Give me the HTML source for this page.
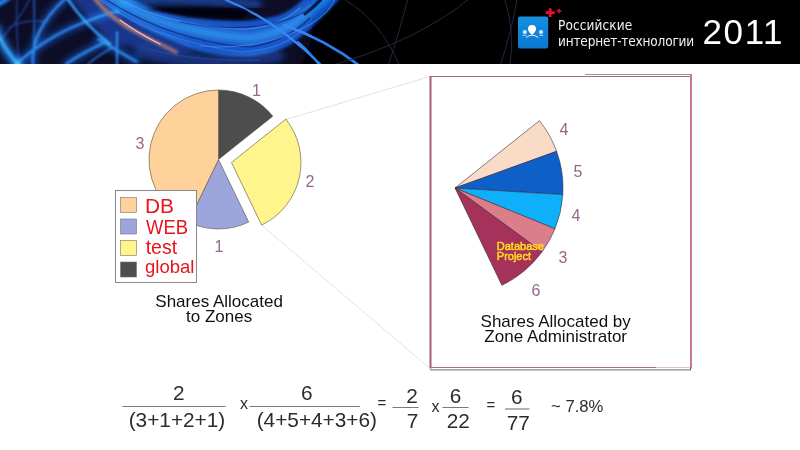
<!DOCTYPE html>
<html><head><meta charset="utf-8">
<style>
html,body{margin:0;padding:0;background:#fff;}
body{width:800px;height:450px;overflow:hidden;position:relative;font-family:"Liberation Sans",Arial,sans-serif;}
#hdr{position:absolute;left:0;top:0;width:800px;height:64px;background:#000;overflow:hidden;}
#hdr svg{position:absolute;left:0;top:0;}
.t{position:absolute;white-space:nowrap;line-height:1;}
#main{position:absolute;left:0;top:0;}
.brand{color:#f2f2f2;font-size:13.5px;font-family:"DejaVu Sans Condensed","Liberation Sans",sans-serif;}
.leg{color:#e8141c;font-size:20px;transform-origin:0 0;}
.cap{color:#111;font-size:17px;text-align:center;line-height:15px;}
.f{color:#2c2c2c;font-size:20.8px;}
</style></head><body>
<div id="hdr">
<svg width="800" height="64" viewBox="0 0 800 64">
<defs>
<filter id="b8" x="-20%" y="-100%" width="140%" height="300%"><feGaussianBlur stdDeviation="7"/></filter>
<filter id="b4" x="-20%" y="-100%" width="140%" height="300%"><feGaussianBlur stdDeviation="3.5"/></filter>
<filter id="b2" x="-20%" y="-100%" width="140%" height="300%"><feGaussianBlur stdDeviation="1.5"/></filter>
<filter id="b15" x="-20%" y="-100%" width="140%" height="300%"><feGaussianBlur stdDeviation="1.1"/></filter>
<filter id="b1" x="-20%" y="-100%" width="140%" height="300%"><feGaussianBlur stdDeviation="0.7"/></filter>
</defs>
<rect width="800" height="64" fill="#000"/>
<g style="mix-blend-mode:screen">
<path d="M-20 -20H300Q330 30 290 84H-20Z" fill="#0a0b26" filter="url(#b8)"/>
</g>
<g fill="none" stroke-linecap="round" style="mix-blend-mode:screen">
<!-- lower dim blue mass -->
<path d="M140 52Q200 68 278 56" stroke="#0a2a6c" stroke-width="12" filter="url(#b4)" style="mix-blend-mode:screen"/>
<path d="M66 -6L110 44L176 54L204 52L88 -6Z" fill="#0a2c78" stroke="none" filter="url(#b4)" style="mix-blend-mode:screen"/>
<!-- big crescent band -->
<path d="M88 -6Q112 10 142 27Q172 42 202 52Q230 58 255 56Q275 53 290 45Q308 32 318 21Q332 8 344 -6H308Q290 14 272 17Q255 21 237 21Q210 20 185 17Q150 10 122 -6Z" fill="#0a4cbc" stroke="none" filter="url(#b2)" style="mix-blend-mode:screen"/>
<path d="M108 -4Q150 20 185 28T248 38Q280 34 297 21T328 -4" stroke="#1c7cf0" stroke-width="6" filter="url(#b4)" style="mix-blend-mode:screen"/>
<!-- streaks -->
<g filter="url(#b1)" stroke-width="1.2">
<path d="M100 -4Q140 22 180 34T250 47Q285 42 310 18" stroke="#041848" opacity="0.75"/>
<path d="M112 -4Q150 16 188 23T248 29Q280 26 300 8" stroke="#4aa0ff" opacity="0.55"/>
<path d="M96 -4Q130 24 170 36T240 52Q280 50 300 32" stroke="#2f8af6" opacity="0.5"/>
<path d="M180 22Q230 32 270 24T320 -4" stroke="#041848" opacity="0.6"/>
<path d="M200 46Q250 50 290 34T336 -4" stroke="#3a90f8" opacity="0.6"/>
<path d="M150 50Q200 62 260 60" stroke="#1a50b0" opacity="0.5"/>
<path d="M305 14Q318 4 324 -4" stroke="#02081c" stroke-width="3" opacity="0.8"/>
</g>
<!-- top band -->
<path d="M124 1Q180 -2 258 4" stroke="#0c44a4" stroke-width="7" filter="url(#b4)" style="mix-blend-mode:screen"/>
<!-- left glow -->
<path d="M-4 28Q2 50 22 68" stroke="#1878e8" stroke-width="8" filter="url(#b4)" style="mix-blend-mode:screen"/>
<path d="M-2 34Q6 52 20 66" stroke="#2a90f8" stroke-width="2.5" filter="url(#b2)" style="mix-blend-mode:screen"/>
<path d="M-4 5Q4 2 10 -4" stroke="#1a78e8" stroke-width="5" filter="url(#b2)" style="mix-blend-mode:screen"/>
<!-- thin lines left: glow -->
<g stroke="#0c48b0" stroke-width="6" filter="url(#b4)" style="mix-blend-mode:screen">
<path d="M14 66Q45 38 80 24T118 12"/>
<path d="M33 66Q30 30 66 -2"/>
<path d="M66 64Q84 52 104 43"/>
<path d="M98 39Q116 50 137 62"/>
</g>
<g stroke="#1a70dc" stroke-width="2.2" filter="url(#b15)" style="mix-blend-mode:screen">
<path d="M14 66Q45 38 80 24T118 12"/>
<path d="M33 66Q30 30 66 -2"/>
<path d="M66 64Q84 52 104 43"/>
<path d="M88 64Q100 54 114 47" stroke-width="1.4"/>
<path d="M98 39Q116 50 137 62"/>
<path d="M117 32V66"/>
<path d="M33 66Q35 30 34 -2" stroke-width="1.5" stroke="#1858c0"/>
<path d="M17 -2Q16 30 19 66" stroke-width="1.3" stroke="#16388c"/>
<path d="M0 40Q20 20 30 -2" stroke-width="1.3" stroke="#16388c"/>
<path d="M8 28Q26 18 48 22" stroke-width="1.2" stroke="#1a3a88"/>
<path d="M67 -2Q84 24 110 44" stroke-width="2.6" stroke="#2a90f8"/>
</g>
<!-- thin lines right -->
<g stroke="#2a80f0" filter="url(#b1)">
<path d="M226 0Q276 20 324 68" stroke-width="2.2"/>
<path d="M284 25Q326 40 360 66" stroke-width="2.6"/>
<path d="M298 42Q310 52 320 66" stroke-width="2"/>
</g>
<!-- orange streak -->
<path d="M94 -2Q112 20 138 33T176 52" stroke="#a8705c" stroke-width="3.6" filter="url(#b2)"/>
<path d="M120 20Q136 32 160 44" stroke="#f0c0b0" stroke-width="1.2" filter="url(#b1)"/>
<!-- faint lines -->
<g stroke="#26263e" stroke-width="1" filter="url(#b1)">
<path d="M345 0Q380 20 400 66"/>
<path d="M408 -2Q400 30 388 66"/>
<path d="M330 66Q420 40 470 -2"/>
<path d="M505 0Q515 30 510 66"/>
<path d="M517 0Q512 30 500 66"/>
</g>
</g>
<!-- dark hole -->
<path d="M146 9Q200 6 246 10Q252 16 240 19Q210 19 186 15Q160 12 146 9Z" fill="#02030c" opacity="0.9" filter="url(#b2)"/>
</svg>
</div>

<svg id="main" width="800" height="450" viewBox="0 0 800 450">
<!-- logo -->
<defs><linearGradient id="lg" x1="0" y1="0" x2="0" y2="1"><stop offset="0" stop-color="#168fde"/><stop offset="1" stop-color="#0a78d0"/></linearGradient></defs>
<rect x="518" y="16.5" width="30.2" height="32" rx="2" fill="url(#lg)"/>
<g fill="#fff">
<path d="M532 25.1a4 4 0 0 1 4 4c0 2.6-2.2 4.4-4 5.9c-1.800-1.500-4-3.300-4-5.900a4 4 0 0 1 4-4z"/><circle cx="524.8" cy="32" r="2.1" fill="#d4eaff"/><circle cx="541" cy="32" r="2.1" fill="#d4eaff"/>
</g>
<g stroke="#e8f4ff" fill="none" stroke-width="1">
<path d="M526.2 37.5Q532 32.8 538.3 37.5"/>
<path d="M522.6 35.6Q524.8 34.6 526.6 35.4M539.2 35.4Q541 34.6 543.2 35.6" stroke-width="0.8"/>
</g>
<g stroke="#e8102a" fill="none">
<path d="M545.6 12.6h9.2M550.2 8.2v8.8" stroke-width="2.8"/>
<path d="M556.8 11h4.6M559.1 8.7v4.6" stroke-width="1.5"/>
</g>

<!-- connector lines -->
<g stroke="#e2e2e8" stroke-width="1" fill="none">
<path d="M286 119.5L430 76.5"/>
<path d="M262 225.5L430 368.5"/>
</g>

<!-- pie -->
<g stroke="#55503a" stroke-width="0.6" stroke-linejoin="round">
<path d="M218.5 159.5L218.5 90.0A69.5 69.5 0 0 1 272.8 116.2Z" fill="#4d4d4d"/>
<path d="M231.5 162.5L285.8 119.1A69.5 69.5 0 0 1 261.6 225.1Z" fill="#fff58c"/>
<path d="M218.5 159.5L248.7 222.1A69.5 69.5 0 0 1 188.3 222.1Z" fill="#9da6dc"/>
<path d="M218.5 159.5L188.3 222.1A69.5 69.5 0 0 1 218.5 90.0Z" fill="#ffd29b"/>
</g>

<!-- legend -->
<rect x="115.5" y="190.5" width="81" height="92" fill="#fff" stroke="#8a8a8a" stroke-width="1"/>
<g stroke="#77746a" stroke-width="0.6">
<rect x="120.5" y="197.5" width="16" height="15" fill="#ffd29b"/>
<rect x="120.5" y="219" width="16" height="15" fill="#9da6dc"/>
<rect x="120.5" y="240.5" width="16" height="15" fill="#fff58c"/>
<rect x="120.5" y="262" width="16" height="15" fill="#4d4d4d"/>
</g>

<!-- box -->
<g fill="none">
<path d="M585 74.5H692" stroke="#a88c98" stroke-width="1"/>
<path d="M430 76.5H690" stroke="#94727f" stroke-width="1"/>
<path d="M430.5 76V368.5" stroke="#a45e7c" stroke-width="2"/>
<path d="M691 74V368.5" stroke="#c47c92" stroke-width="2"/>
<path d="M430 367.5H656" stroke="#b46c86" stroke-width="1"/>
<path d="M656 367.5H690" stroke="#dcc0ca" stroke-width="1"/>
<path d="M430 369.9H691M690.5 368v2" stroke="#6c5464" stroke-width="0.9"/>
</g>

<!-- fan -->
<g stroke="#3a2a3a" stroke-width="0.6" stroke-linejoin="round">
<path d="M455 188L539.4 120.7A108 108 0 0 1 556.6 151.3Z" fill="#f9dcc6"/>
<path d="M455 188L556.6 151.3A108 108 0 0 1 562.8 194.6Z" fill="#0f5fc8"/>
<path d="M455 188L562.8 194.6A108 108 0 0 1 555.0 228.8Z" fill="#0fb0fa"/>
<path d="M455 188L555.0 228.8A108 108 0 0 1 542.1 251.8Z" fill="#dc7d8c"/>
<path d="M455 188L542.1 251.8A108 108 0 0 1 501.9 285.3Z" fill="#a5325a"/>
</g>

<!-- number labels -->
<g font-family="Liberation Sans, Arial, sans-serif" font-size="16" fill="#94688a" text-anchor="middle">
<text x="256.5" y="96">1</text>
<text x="140" y="149">3</text>
<text x="310" y="187">2</text>
<text x="219" y="252">1</text>
<text x="564" y="135">4</text>
<text x="578" y="177">5</text>
<text x="576" y="220.5">4</text>
<text x="563" y="262.5">3</text>
<text x="536" y="296">6</text>
</g>
<g font-family="Liberation Sans, Arial, sans-serif" font-size="11" fill="#ffdc1e" stroke="#ffdc1e" stroke-width="0.5">
<text x="496.8" y="250">Database</text>
<text x="496.8" y="259.6">Project</text>
</g>

<!-- fraction bars -->
<g stroke="#7a7a7a" stroke-width="1">
<path d="M122.5 406.5H225.5"/>
<path d="M249.5 406.5H360"/>
<path d="M392.5 407.5H418.5"/>
<path d="M442.5 407.5H468.5"/>
<path d="M505 409H529.5" stroke="#666"/>
</g>
</svg>

<div class="t brand" style="left:558px;top:19px;letter-spacing:0.1px;">Российские</div>
<div class="t brand" style="left:558px;top:34.5px;letter-spacing:-0.18px;">интернет-технологии</div>
<div class="t" style="left:702.5px;top:14.4px;font-size:35px;letter-spacing:1.6px;color:#fff;">2011</div>

<div class="t leg" style="left:144.6px;top:195.65px;font-size:20.5px;transform:scaleX(1.02);">DB</div>
<div class="t leg" style="left:146px;top:217.5px;font-size:19.5px;transform:scaleX(0.945);">WEB</div>
<div class="t leg" style="left:145.7px;top:237.5px;font-size:19.5px;">test</div>
<div class="t leg" style="left:145px;top:258.3px;font-size:18.5px;">global</div>

<div class="t cap" style="left:119.1px;width:200px;top:293.9px;">Shares Allocated<br>to Zones</div>
<div class="t cap" style="left:455.7px;width:200px;top:313.6px;">Shares Allocated by<br>Zone Administrator</div>

<div class="t f" style="left:173.1px;top:383.2px;">2</div>
<div class="t f" style="left:128.7px;top:410.4px;">(3+1+2+1)</div>
<div class="t f" style="left:240px;top:396px;font-size:16px;">x</div>
<div class="t f" style="left:301px;top:383.2px;">6</div>
<div class="t f" style="left:256.7px;top:410.4px;">(4+5+4+3+6)</div>
<div class="t f" style="left:377.5px;top:395px;font-size:15px;">=</div>
<div class="t f" style="left:406.3px;top:385.7px;">2</div>
<div class="t f" style="left:406.8px;top:411.1px;">7</div>
<div class="t f" style="left:431.5px;top:398.5px;font-size:16px;">x</div>
<div class="t f" style="left:449.7px;top:385.7px;">6</div>
<div class="t f" style="left:446.7px;top:411.1px;">22</div>
<div class="t f" style="left:486.5px;top:397px;font-size:15px;">=</div>
<div class="t f" style="left:510.9px;top:387px;">6</div>
<div class="t f" style="left:506.7px;top:412.9px;">77</div>
<div class="t f" style="left:551px;top:398.7px;font-size:16.7px;">~ 7.8%</div>
</body></html>
